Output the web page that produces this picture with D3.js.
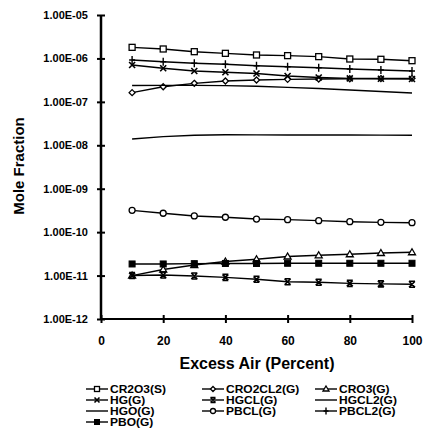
<!DOCTYPE html>
<html><head><meta charset="utf-8">
<script src="https://cdn.jsdelivr.net/npm/d3@7/dist/d3.min.js"></script>
<style>body{margin:0;background:#fff}svg{display:block}text{font-family:"Liberation Sans",Arial,sans-serif;font-weight:bold;fill:#000}</style>
</head><body><svg id="c" width="427" height="438"></svg>
<script>
const xValues = [10,20,30,40,50,60,70,80,90,100];
const CR2O3_S   = [1.80e-6,1.65e-6,1.43e-6,1.31e-6,1.20e-6,1.16e-6,1.10e-6,9.7e-7,9.55e-7,8.87e-7];
const CRO2CL2_G = [1.63e-7,2.23e-7,2.67e-7,3.02e-7,3.18e-7,3.30e-7,3.35e-7,3.40e-7,3.44e-7,3.48e-7];
const CRO3_G    = [1.0e-11,1.38e-11,1.75e-11,2.11e-11,2.37e-11,2.75e-11,2.93e-11,3.10e-11,3.31e-11,3.44e-11];
const HG_G      = [7.06e-7,5.93e-7,5.14e-7,4.80e-7,4.50e-7,3.94e-7,3.64e-7,3.48e-7,3.41e-7,3.36e-7];
const HGCL_G    = [1.0e-11,1.03e-11,9.8e-12,9.1e-12,8.2e-12,7.2e-12,7.0e-12,6.6e-12,6.45e-12,6.3e-12];
const HGCL2_G   = [2.38e-7,2.40e-7,2.40e-7,2.36e-7,2.28e-7,2.16e-7,2.03e-7,1.88e-7,1.73e-7,1.60e-7];
const HGO_G     = [1.40e-8,1.58e-8,1.70e-8,1.75e-8,1.74e-8,1.73e-8,1.72e-8,1.72e-8,1.71e-8,1.70e-8];
const PBCL_G    = [3.18e-10,2.72e-10,2.36e-10,2.20e-10,2.00e-10,1.94e-10,1.84e-10,1.74e-10,1.68e-10,1.65e-10];
const PBCL2_G   = [9.2e-7,8.41e-7,7.73e-7,7.33e-7,6.80e-7,6.45e-7,6.12e-7,5.71e-7,5.42e-7,5.14e-7];
const PBO_G     = [1.85e-11,1.85e-11,1.88e-11,1.90e-11,1.90e-11,1.92e-11,1.92e-11,1.92e-11,1.92e-11,1.92e-11];

const seriesNames = ["CR2O3(S)","CRO2CL2(G)","CRO3(G)","HG(G)","HGCL(G)","HGCL2(G)","HGO(G)","PBCL(G)","PBCL2(G)","PBO(G)"];
const seriesValues = [CR2O3_S,CRO2CL2_G,CRO3_G,HG_G,HGCL_G,HGCL2_G,HGO_G,PBCL_G,PBCL2_G,PBO_G];
const seriesMarkers = ["square","diamond","triangle","x","hgcl","none","none","circle","plus","fsquare"];

const yTickValues = [1e-12,1e-11,1e-10,1e-9,1e-8,1e-7,1e-6,1e-5];
const yTickLabels = ["1.00E-12","1.00E-11","1.00E-10","1.00E-09","1.00E-08","1.00E-07","1.00E-06","1.00E-05"];
const xTickValues = [0,20,40,60,80,100];

const svg = d3.select("#c");
const x = d3.scaleLinear().domain([0,100]).range([101,412]);
const y = d3.scaleLog().domain([1e-12,1e-5]).range([319,15]);

// axes
const gy = svg.append("g").attr("transform","translate(101,0)")
  .call(d3.axisLeft(y).tickValues(yTickValues).tickFormat((d,i)=>yTickLabels[i]).tickSize(4).tickPadding(9));
gy.select(".domain").attr("stroke","#000").attr("stroke-width",2.5).attr("d","M0,15V319");
gy.selectAll(".tick line").attr("x1",-4).attr("x2",4).attr("stroke-width",2);
gy.selectAll(".tick text").style("font-size","11px").attr("font-family",null);

const gx = svg.append("g").attr("transform","translate(0,319)")
  .call(d3.axisBottom(x).tickValues(xTickValues).tickSize(4).tickPadding(13));
gx.select(".domain").attr("stroke","#000").attr("stroke-width",2).attr("d","M101,0H412");
gx.selectAll(".tick line").attr("y1",-4).attr("y2",4).attr("stroke-width",2);
gx.selectAll(".tick text").style("font-size","12px").attr("font-family",null);

// axis titles
svg.append("text").attr("x",257).attr("y",369).attr("text-anchor","middle").style("font-size","16px").text("Excess Air (Percent)");
svg.append("text").attr("transform","translate(24,166) rotate(-90)").attr("text-anchor","middle").style("font-size","15px").text("Mole Fraction");

function drawMarker(g, type, cx, cy, s){
  s = s || 3;
  switch(type){
    case "square": g.append("rect").attr("x",cx-s).attr("y",cy-s).attr("width",2*s).attr("height",2*s).attr("fill","#fff").attr("stroke","#000").attr("stroke-width",1.3); break;
    case "fsquare": g.append("rect").attr("x",cx-s).attr("y",cy-s).attr("width",2*s).attr("height",2*s).attr("fill","#000").attr("stroke","#000").attr("stroke-width",1); break;
    case "circle": g.append("circle").attr("cx",cx).attr("cy",cy).attr("r",s).attr("fill","#fff").attr("stroke","#000").attr("stroke-width",1.3); break;
    case "diamond": g.append("path").attr("d",`M${cx},${cy-s}L${cx+s},${cy}L${cx},${cy+s}L${cx-s},${cy}Z`).attr("fill","#fff").attr("stroke","#000").attr("stroke-width",1.3); break;
    case "triangle": g.append("path").attr("d",`M${cx},${cy-s-0.5}L${cx+s+0.5},${cy+s-0.5}L${cx-s-0.5},${cy+s-0.5}Z`).attr("fill","#fff").attr("stroke","#000").attr("stroke-width",1.3); break;
    case "x": g.append("path").attr("d",`M${cx-s},${cy-s}L${cx+s},${cy+s}M${cx-s},${cy+s}L${cx+s},${cy-s}`).attr("stroke","#000").attr("stroke-width",1.6); break;
    case "hgcl": g.append("path").attr("d",`M${cx-s},${cy-s}L${cx+s},${cy+s}M${cx-s},${cy+s}L${cx+s},${cy-s}M${cx-s},${cy-s}H${cx+s}M${cx-s},${cy+s}H${cx+s}`).attr("stroke","#000").attr("stroke-width",1.6); break;
    case "plus": g.append("path").attr("d",`M${cx-s},${cy}H${cx+s}M${cx},${cy-s-1}V${cy+s+1}`).attr("stroke","#000").attr("stroke-width",1.4); break;
  }
}

const line = d3.line().x((d,i)=>x(xValues[i])).y(d=>y(d));
seriesValues.forEach((vals,k)=>{
  const g = svg.append("g");
  g.append("path").attr("d",line(vals)).attr("fill","none").attr("stroke","#000").attr("stroke-width",1.4);
  vals.forEach((v,i)=>drawMarker(g, seriesMarkers[k], x(xValues[i]), y(v)));
});

// legend
const colX = [86,202,315];
const rowY = [389,400,411,422];
seriesNames.forEach((name,k)=>{
  const c = k%3, r = Math.floor(k/3);
  const g = svg.append("g");
  const lx = colX[c], ly = rowY[r];
  g.append("line").attr("x1",lx).attr("x2",lx+22).attr("y1",ly).attr("y2",ly).attr("stroke","#000").attr("stroke-width",1.4);
  drawMarker(g, seriesMarkers[k], lx+11, ly, 2.5);
  g.append("text").attr("transform",`translate(${lx+24},${ly+4}) scale(1.2,1)`).style("font-size","10px").text(name);
});
</script></body></html>
